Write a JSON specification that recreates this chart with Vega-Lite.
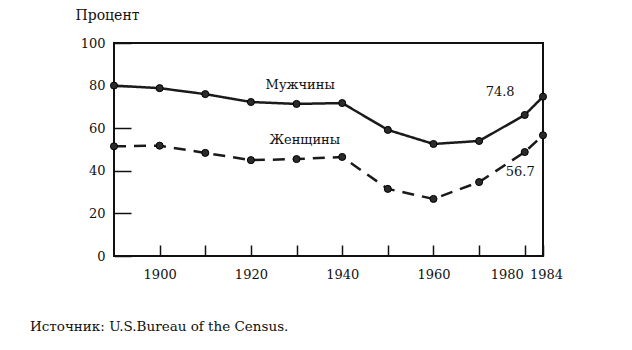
{
  "$schema": "https://vega.github.io/schema/vega-lite/v6.json",
  "width": 429,
  "height": 213,
  "autosize": {"type": "none"},
  "padding": {"left": 114, "top": 43, "right": 89, "bottom": 94},
  "background": "white",
  "config": {
    "font": "DejaVu Serif",
    "view": {"stroke": "#111", "strokeWidth": 2},
    "axis": {"labelFont": "DejaVu Serif", "titleFont": "DejaVu Serif", "labelColor": "#111", "titleColor": "#111", "domain": false, "grid": false, "tickColor": "#111", "tickWidth": 1.5}
  },
  "title": {
    "text": "Источник: U.S.Bureau of the Census.",
    "orient": "bottom",
    "anchor": "start",
    "frame": "group",
    "dx": -84,
    "offset": 39,
    "font": "DejaVu Serif",
    "fontSize": 13.5,
    "fontWeight": "normal",
    "color": "#111"
  },
  "datasets": {
    "series": [
      {"year": 1890, "value": 80.0, "sex": "Мужчины"},
      {"year": 1900, "value": 78.8, "sex": "Мужчины"},
      {"year": 1910, "value": 76.0, "sex": "Мужчины"},
      {"year": 1920, "value": 72.3, "sex": "Мужчины"},
      {"year": 1930, "value": 71.4, "sex": "Мужчины"},
      {"year": 1940, "value": 71.8, "sex": "Мужчины"},
      {"year": 1950, "value": 59.2, "sex": "Мужчины"},
      {"year": 1960, "value": 52.6, "sex": "Мужчины"},
      {"year": 1970, "value": 54.0, "sex": "Мужчины"},
      {"year": 1980, "value": 66.2, "sex": "Мужчины"},
      {"year": 1984, "value": 74.8, "sex": "Мужчины"},
      {"year": 1890, "value": 51.5, "sex": "Женщины"},
      {"year": 1900, "value": 51.8, "sex": "Женщины"},
      {"year": 1910, "value": 48.4, "sex": "Женщины"},
      {"year": 1920, "value": 45.0, "sex": "Женщины"},
      {"year": 1930, "value": 45.5, "sex": "Женщины"},
      {"year": 1940, "value": 46.5, "sex": "Женщины"},
      {"year": 1950, "value": 31.5, "sex": "Женщины"},
      {"year": 1960, "value": 26.8, "sex": "Женщины"},
      {"year": 1970, "value": 34.7, "sex": "Женщины"},
      {"year": 1980, "value": 48.8, "sex": "Женщины"},
      {"year": 1984, "value": 56.7, "sex": "Женщины"}
    ],
    "notes": [
      {"year": 1930.8, "value": 80.3, "label": "Мужчины"},
      {"year": 1931.8, "value": 54.5, "label": "Женщины"},
      {"year": 1974.6, "value": 77.0, "label": "74.8"},
      {"year": 1979.0, "value": 39.4, "label": "56.7"}
    ]
  },
  "layer": [
    {
      "data": {"name": "series"},
      "mark": {"type": "line", "color": "#1a1a1a", "strokeWidth": 2.5},
      "encoding": {
        "x": {
          "field": "year", "type": "quantitative",
          "scale": {"domain": [1890, 1984], "nice": false, "zero": false},
          "axis": {
            "title": null,
            "values": [1900, 1910, 1920, 1930, 1940, 1950, 1960, 1970, 1980, 1984],
            "labelExpr": "(datum.value % 20 == 0 || datum.value == 1984) ? datum.value : ''",
            "format": "d",
            "tickSize": -11,
            "labelPadding": 23,
            "labelFontSize": 13,
            "labelBaseline": "top",
            "labelFlush": false,
            "labelOverlap": false,
            "labelOffset": {"condition": [{"test": "datum.value == 1980", "value": -18}, {"test": "datum.value == 1984", "value": 3}], "value": 0}
          }
        },
        "y": {
          "field": "value", "type": "quantitative",
          "scale": {"domain": [0, 100], "nice": false},
          "axis": {
            "title": "Процент",
            "titleAngle": 0,
            "titleAlign": "left",
            "titleBaseline": "alphabetic",
            "titleX": -39,
            "titleY": -24,
            "titleFontSize": 14,
            "titleFontWeight": "normal",
            "values": [0, 20, 40, 60, 80, 100],
            "tickSize": -17,
            "labelPadding": 26,
            "labelFontSize": 13,
            "labelFlush": false
          }
        },
        "strokeDash": {
          "field": "sex", "type": "nominal",
          "scale": {"domain": ["Мужчины", "Женщины"], "range": [[1, 0], [12, 8]]},
          "legend": null
        }
      }
    },
    {
      "data": {"name": "series"},
      "mark": {"type": "point", "filled": true, "color": "#2a2a2a", "size": 50, "stroke": "#000", "strokeWidth": 1, "opacity": 1},
      "encoding": {
        "x": {"field": "year", "type": "quantitative"},
        "y": {"field": "value", "type": "quantitative"},
        "detail": {"field": "sex", "type": "nominal"}
      }
    },
    {
      "data": {"name": "notes"},
      "mark": {"type": "text", "font": "DejaVu Serif", "fontSize": 13, "color": "#111", "align": "center", "baseline": "middle"},
      "encoding": {
        "x": {"field": "year", "type": "quantitative"},
        "y": {"field": "value", "type": "quantitative"},
        "text": {"field": "label", "type": "nominal"}
      }
    }
  ]
}
